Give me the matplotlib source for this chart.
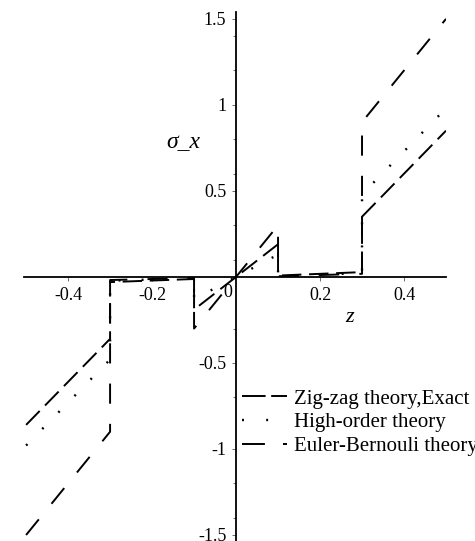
import matplotlib
matplotlib.use('Agg')
import matplotlib.pyplot as plt
from matplotlib.lines import Line2D

# Through-thickness coordinate and sigma_x for each theory (piecewise, layer interfaces at +-0.1, +-0.3)
z_pts = [-0.5, -0.3, -0.3, -0.1, -0.1, 0.1, 0.1, 0.3, 0.3, 0.5]
sigma_zigzag = [-0.86, -0.36, -0.03, -0.012, -0.19, 0.19, 0.008, 0.028, 0.35, 0.85]
sigma_highorder = [-0.98, -0.48, -0.022, -0.008, -0.13, 0.13, 0.006, 0.022, 0.48, 0.98]
sigma_euler = [-1.5, -0.9, -0.018, -0.006, -0.3, 0.3, 0.004, 0.018, 0.9, 1.5]

names = ["Zig-zag theory,Exact", "High-order theory", "Euler-Bernouli theory"]

xmajor = [-0.4, -0.2, 0.2, 0.4]
xmajor_labels = ["-0.4", "-0.2", "0.2", "0.4"]
ymajor = [-1.5, -1, -0.5, 0.5, 1, 1.5]
ymajor_labels = ["-1.5", "-1", "-0.5", "0.5", "1", "1.5"]
yminor = [-1.4, -1.2, -0.7, -0.3, 0.1, 0.3, 0.6, 0.8, 1.2, 1.4]

plt.rcParams['font.family'] = ['Liberation Serif', 'DejaVu Serif']
plt.rcParams['lines.scale_dashes'] = False

fig = plt.figure(figsize=(4.75, 5.41), dpi=100)
ax = fig.add_axes([24 / 475, 0, 422 / 475, 529 / 541])

lw = 1.4
ax.plot(z_pts, sigma_zigzag, color='black', lw=lw, dashes=(14, 5.5))
ax.plot(z_pts, sigma_highorder, color='black', lw=1.7, dashes=(1.4, 15.2))
ax.plot(z_pts, sigma_euler, color='black', lw=lw, dashes=(14.5, 14.5))

ax.set_xlim(-0.505, 0.5)
ax.set_ylim(-1.535, 1.54)

for side in ['top', 'right']:
    ax.spines[side].set_visible(False)
ax.spines['left'].set_position(('data', 0))
ax.spines['bottom'].set_position(('data', 0))
ax.spines['left'].set_linewidth(1.3)
ax.spines['bottom'].set_linewidth(1.3)

ax.set_xticks(xmajor)
ax.set_xticklabels(xmajor_labels)
ax.set_yticks(ymajor)
ax.set_yticklabels(ymajor_labels)
ax.set_yticks(yminor, minor=True)
ax.tick_params(axis='both', which='major', direction='out', length=3, width=0.6,
               labelsize=13, color='#555555', pad=4)
ax.tick_params(axis='y', which='minor', direction='out', length=2, width=0.6, color='#555555')

ax.annotate("0", xy=(0, 0), xytext=(-6, -11), textcoords='offset points',
            ha='center', va='center', fontsize=13)

ax.text(-0.126, 0.78, "σ_x", fontsize=17, style='italic', ha='center', va='center')
ax.text(0.271, -0.238, "z", fontsize=16, style='italic', ha='center', va='center')

handles = [
    Line2D([], [], color='black', lw=lw, dashes=(17, 4)),
    Line2D([], [], color='black', lw=1.7, dashes=(1.4, 16)),
    Line2D([], [], color='black', lw=lw, dashes=(16.5, 13, 3, 20)),
]
leg = ax.legend(handles, names, loc='upper left', bbox_to_anchor=(218 / 422, 1 - 377 / 529),
                frameon=False, fontsize=15, handlelength=2.15, handletextpad=0.35,
                labelspacing=0.2, borderaxespad=0, borderpad=0)

fig.savefig('out.png', dpi=100)
